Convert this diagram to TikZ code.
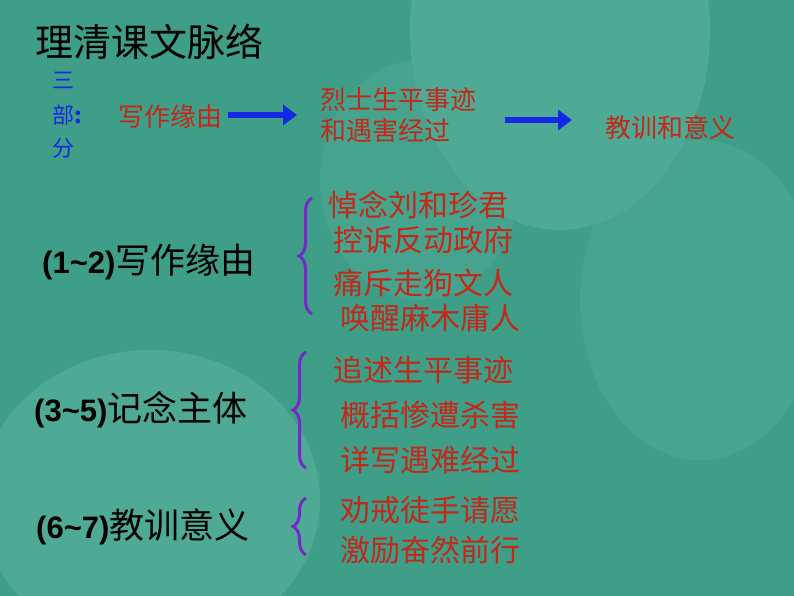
\documentclass[tikz,border=0pt]{standalone}
\usepackage{fontspec}
\setmainfont{Liberation Sans}
\newfontfamily\cjk{Noto Sans CJK SC}
\usetikzlibrary{decorations.pathreplacing,arrows.meta}
\definecolor{bg}{RGB}{62,158,136}
\definecolor{bgl}{RGB}{78,170,148}
\definecolor{rd}{RGB}{196,40,24}
\definecolor{pu}{RGB}{120,40,200}
\definecolor{bl}{RGB}{20,40,230}
\begin{document}
\begin{tikzpicture}[x=1pt,y=-1pt,
  t/.style={anchor=west,inner sep=0pt,font=\cjk\fontsize{22}{24}\selectfont},
  r/.style={anchor=west,inner sep=0pt,text=rd,font=\cjk\fontsize{30}{31}\selectfont},
  rs/.style={anchor=west,inner sep=0pt,text=rd,font=\cjk\fontsize{26}{31}\selectfont},
  big/.style={anchor=west,inner sep=0pt,font=\fontsize{31}{33}\selectfont},
  br/.style={draw=pu,line width=3pt,decorate,decoration={brace,amplitude=13pt,mirror}},
  arr/.style={draw=bl,line width=6pt,-{Triangle[length=14pt,width=20pt]}}]
\fill[bg] (0,0) rectangle (794,596);
\useasboundingbox (0,0) rectangle (794,596);
\fill[bgl] (560,30) ellipse (150 and 200);
\fill[bgl] (150,500) ellipse (170 and 150);
\fill[bgl,opacity=.6] (700,300) ellipse (120 and 160);
\fill[bgl,opacity=.5] (420,180) ellipse (100 and 120);
\node[t,font=\cjk\fontsize{38}{40}\selectfont] (title) at (35,42) {理清课文脉络};
\node[t,text=bl] (s1) at (52,80) {三};
\node[t,text=bl] (s2) at (52,115) {部\textbf{:}};
\node[t,text=bl] (s3) at (52,148) {分};
\node[rs] (p1) at (118,117) {写作缘由};
\node[rs] (p2a) at (320,100) {烈士生平事迹};
\node[rs] (p2b) at (320,131) {和遇害经过};
\node[rs] (p3) at (605,128) {教训和意义};
\draw[arr] (p1.east)++(6,-2) coordinate (q1) -- (297,115);
\draw[arr] (505,120) -- (572,120);
\node[big] (a) at (42,262) {\textbf{(1\textasciitilde2)}{\cjk\fontsize{35}{37}\selectfont 写作缘由}};
\node[big] (b) at (34,410) {\textbf{(3\textasciitilde5)}{\cjk\fontsize{35}{37}\selectfont 记念主体}};
\node[big] (c) at (36,527) {\textbf{(6\textasciitilde7)}{\cjk\fontsize{35}{37}\selectfont 教训意义}};
\draw[br] (312,198) -- (312,314);
\draw[br] (306,352) -- (306,468);
\draw[br] (306,498) -- (306,555);
\node[r] (a1) at (328,205) {悼念刘和珍君};
\node[r] (a2) at (333,240) {控诉反动政府};
\node[r] (a3) at (333,283) {痛斥走狗文人};
\node[r] (a4) at (340,318) {唤醒麻木庸人};
\node[r] (b1) at (333,370) {追述生平事迹};
\node[r] (b2) at (340,415) {概括惨遭杀害};
\node[r] (b3) at (340,460) {详写遇难经过};
\node[r] (c1) at (340,510) {劝戒徒手请愿};
\node[r] (c2) at (340,550) {激励奋然前行};
\end{tikzpicture}
\end{document}
